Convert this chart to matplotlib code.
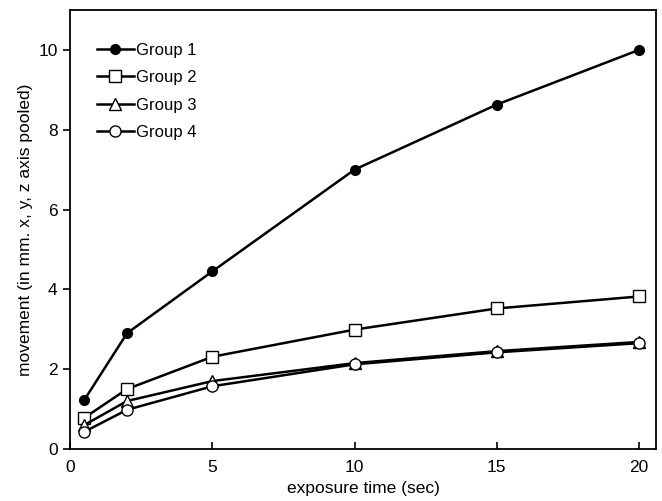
import numpy as np
import matplotlib.pyplot as plt

plt.rcParams['font.family'] = ['Liberation Sans', 'DejaVu Sans']

# exposure time (sec)
times = [0.5, 2, 5, 10, 15, 20]
group1 = [1.23, 2.9, 4.45, 7.0, 8.63, 10.0]
group2 = [0.78, 1.5, 2.31, 2.99, 3.52, 3.82]
group3 = [0.6, 1.2, 1.7, 2.15, 2.45, 2.68]
group4 = [0.43, 0.98, 1.57, 2.12, 2.42, 2.65]
labels = ['Group 1', 'Group 2', 'Group 3', 'Group 4']

fig = plt.figure(figsize=(6.62, 5.01), dpi=100)
ax = fig.add_axes([0.106, 0.104, 0.885, 0.876])

ax.plot(times, group1, '-o', color='black', mfc='black', ms=7, lw=1.8, label=labels[0])
ax.plot(times, group2, '-s', color='black', mfc='white', ms=8, lw=1.8, label=labels[1])
ax.plot(times, group3, '-^', color='black', mfc='white', ms=8, lw=1.8, label=labels[2])
ax.plot(times, group4, '-o', color='black', mfc='white', ms=8, lw=1.8, label=labels[3])

ax.set_xlim(0, 20.6)
ax.set_ylim(0, 11.0)
ax.set_xticks([0, 5, 10, 15, 20])
ax.set_yticks([0, 2, 4, 6, 8, 10])
ax.tick_params(axis='x', direction='in', length=5, width=1.2, labelsize=12.5, pad=8)
ax.tick_params(axis='y', direction='out', length=5, width=1.2, labelsize=12.5, pad=4)
for s in ax.spines.values():
    s.set_linewidth(1.3)

ax.set_xlabel('exposure time (sec)', fontsize=12.5, labelpad=4)
ax.set_ylabel('movement (in mm. x, y, z axis pooled)', fontsize=12.5, labelpad=4)

ax.legend(loc='upper left', frameon=False, fontsize=12, handlelength=2.2,
          handletextpad=0.15, labelspacing=0.75, bbox_to_anchor=(0.02, 0.96))

fig.savefig('out.png', dpi=100)
